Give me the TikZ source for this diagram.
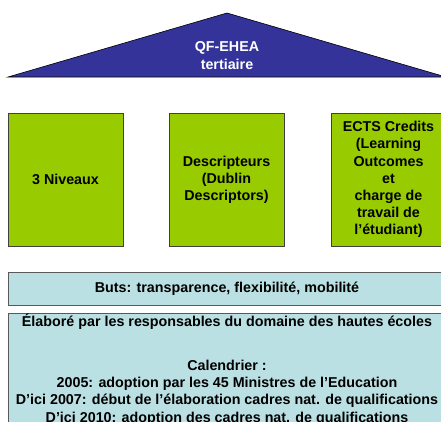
\documentclass[tikz,border=0pt]{standalone}
\usepackage{fontspec}
\setmainfont{Liberation Sans}
\usetikzlibrary{positioning}
\definecolor{qfblue}{HTML}{333399}
\definecolor{qfgreen}{HTML}{99CC00}
\definecolor{qfcyan}{HTML}{BBE0E3}

\begin{document}
\begin{tikzpicture}[x=1pt, y=-1pt,
  txt/.style={align=center, inner sep=0pt, font=\fontsize{14.3}{17.2}\selectfont\bfseries},
  pillar/.style={txt, draw=black!75, fill=qfgreen, line width=0.8pt, minimum width=115pt, minimum height=133pt},
  band/.style={txt, draw=black!65, fill=qfcyan, line width=0.8pt, minimum width=438pt}]
\useasboundingbox (0,0) rectangle (441,421);
\clip (0,0) rectangle (441,421);
% toit
\draw[fill=qfblue, line width=0.6pt] (8,77) -- (227,13) -- (446,77) -- cycle;
\node[txt, text=white] (toit) at (227,55.5) {QF-EHEA\\tertiaire};
% piliers
\node[pillar] (niveaux) at (65.5,179.5) {3 Niveaux};
\node[pillar] (descr) at (226.5,179.5) {Descripteurs\\(Dublin\\Descriptors)};
\node[pillar] (ects) at (388.5,179.5) {ECTS Credits\\(Learning\\Outcomes\\et\\charge de\\travail de\\l’étudiant)};
% socle
\node[band, minimum height=33pt] (buts) at (227,288.5) {Buts: transparence, flexibilité, mobilité};
\node[band, minimum height=130pt, anchor=north] (socle) at (227,313) {};
\node[txt, anchor=north] (calendrier) at ([yshift=-1pt]socle.north) {Élaboré par les responsables du domaine des hautes écoles\\[26.5pt]
  Calendrier :\\
  2005: adoption par les 45 Ministres de l’Education\\
  D’ici 2007: début de l’élaboration cadres nat. de qualifications\\
  D’ici 2010: adoption des cadres nat. de qualifications};
\end{tikzpicture}
\end{document}
